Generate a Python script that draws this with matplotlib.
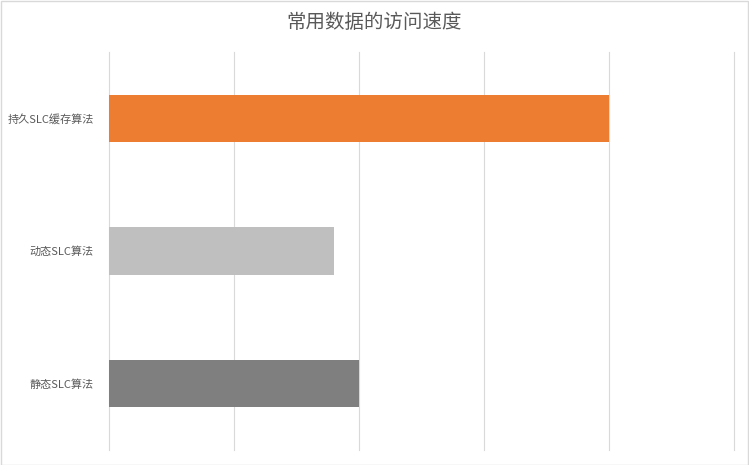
import matplotlib
matplotlib.use('Agg')
import matplotlib.pyplot as pl
from matplotlib.patches import Rectangle

pl.rcParams['font.family'] = ['Noto Sans CJK SC', 'DejaVu Sans']

categories = ['静态SLC算法', '动态SLC算法', '持久SLC缓存算法']
values = [2, 1.8, 4]
bar_colors = ['#7f7f7f', '#bfbfbf', '#ed7d31']
title = '常用数据的访问速度'

W, H = 749, 465
fig = pl.figure(figsize=(W / 100, H / 100), dpi=100)
ax = fig.add_axes([109 / W, (H - 450) / H, (734 - 109) / W, (450 - 52) / H])

ax.barh(range(len(categories)), values, height=0.355, color=bar_colors, zorder=3)
ax.set_xlim(0, 5)
ax.set_ylim(-0.5, len(categories) - 0.5)
ax.set_yticks(range(len(categories)))
ax.set_yticklabels(categories, fontsize=8, color='#595959')
ax.set_xticks([])
ax.tick_params(axis='both', length=0)
ax.tick_params(axis='y', pad=11)
# vertical gridlines, one per unit including the right edge
for gx in range(6):
    ax.axvline(gx, color='#d9d9d9', linewidth=0.8, zorder=0, clip_on=False)
for s in ax.spines.values():
    s.set_visible(False)

fig.text(0.5, (H - 22) / H, title, ha='center', va='center', fontsize=14, color='#595959')

fig.patches.append(Rectangle((0.5 / W, 0.5 / H), (W - 1.5) / W, (H - 1.5) / H,
                             transform=fig.transFigure, fill=False,
                             edgecolor='#d9d9d9', linewidth=1))

fig.savefig('out.png', dpi=100)
